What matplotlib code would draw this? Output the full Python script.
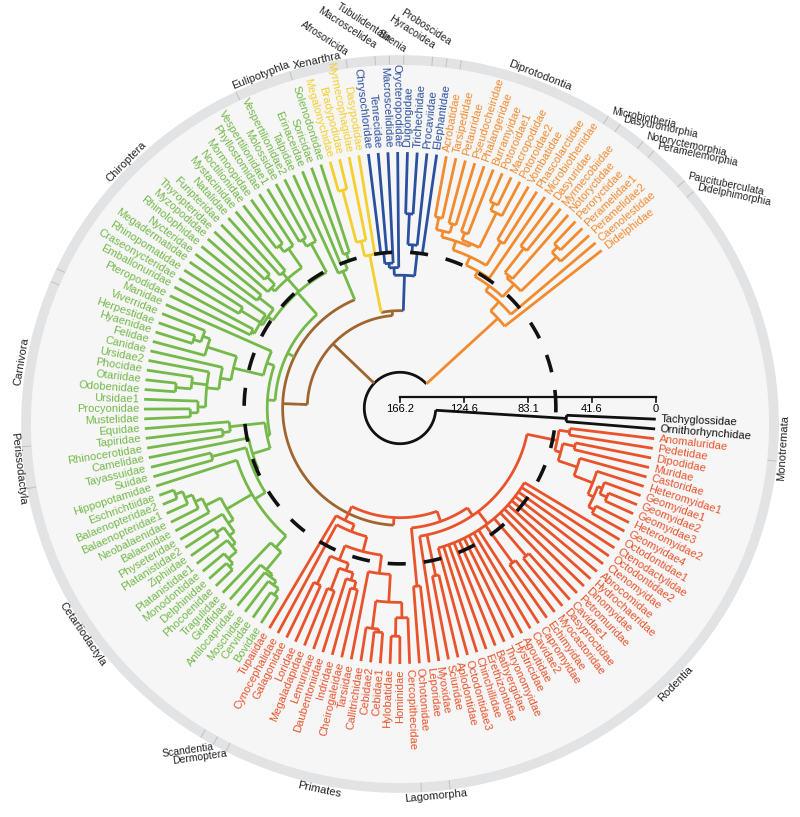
import numpy as np
import matplotlib
matplotlib.use('Agg')
import matplotlib.pyplot as plt

plt.rcParams['font.family'] = ['Liberation Sans', 'DejaVu Sans']

# tree topology, internal node labels are ages (Ma)
rodent_tree = ("(((Anomaluridae,Pedetidae)55,((Dipodidae,Muridae)50,(Castoridae,(Heteromyidae1,"
               "((Geomyidae1,(Geomyidae2,Geomyidae3)20)25,(Heteromyidae2,Geomyidae4)24)28)32)45)58)62,"
               "(Octodontidae1,Ctenodactylidae,Octodontidae2,Ctenomyidae,Abrocomidae,Hydrochaeridae,Dinomyidae,"
               "Petromuridae,(Cavidae1,Dasyproctidae)40,(Myocastoridae,Echimyidae)42,Capromyidae,Cavidae2,Agoutidae,"
               "Hystricidae,Thryonomyidae,Bathyergidae,Erethizontidae,Chinchillidae,Octodontidae3)72,"
               "(Aplodontidae,Sciuridae)55,Myoxidae)82")
primate_tree = ("((((Cercopithecidae,(Hominidae,Hylobatidae)18)30,((Cebidae1,Cebidae2)20,Callitrichidae)22)40,Tarsiidae)58,"
                "((((Cheirogaleidae,Indridae)45,Daubentoniidae)50,(Lemuridae,Megaladapidae)40)55,(Loridae,Galagonidae)40)60)70")
euarch_tree = "((" + rodent_tree + ",(Leporidae,Ochotonidae)50)88,((" + primate_tree + ",Cynocephalidae)80,Tupaiidae)85)95"
cetartio_tree = ("((((((((Bovidae,Cervidae)20,Moschidae)25,Antilocapridae)28,Giraffidae)30,Tragulidae)45,"
                 "((((((Phocoenidae,Delphinidae)15,Monodontidae)18,Platanistidae1)25,(Ziphiidae,Platanistidae2)22)28,Physeteridae)32,"
                 "(Balaenidae,(Neobalaenidae,(Balaenopteridae1,(Balaenopteridae2,Eschrichtiidae)10)15)20)25)36,Hippopotamidae)55)60,"
                 "(Suidae,Tayassuidae)40)63,Camelidae)66")
periss_tree = "((Rhinocerotidae,Tapiridae)50,Equidae)55"
carniv_tree = ("((((((Mustelidae,Procyonidae)30,Ursidae1)35,((Odobenidae,Otariidae)20,Phocidae)30,Ursidae2)40,Canidae)48,"
               "(Felidae,((Hyaenidae,Herpestidae)25,Viverridae)30)35)55,Manidae)75")
bat_tree = ("((((Pteropodidae,Emballonuridae)58,(Craseonycteridae,Rhinopomatidae)45,Megadermatidae)60,(Nycteridae,Rhinolophidae)50)62,"
            "((Myzopodidae,(Thyropteridae,Furipteridae)45)52,(Natalidae,Mystacinidae)50,((Noctilionidae,Mormoopidae)35,Phyllostomidae)40)55,"
            "((Vespertilionidae1,Molossidae)40,Vespertilionidae2)45)66")
lipo_tree = "(Talpidae,(Erinaceidae,(Soricidae,Solenodontidae)60)65)70"
laur_tree = "((((" + cetartio_tree + "," + periss_tree + ")78," + carniv_tree + ")80," + bat_tree + ")85," + lipo_tree + ")90"
xen_tree = "(((Megalonychidae,Bradypodidae)20,Myrmecophagidae)55,Dasypodidae)65"
afro_tree = ("((((Chrysochloridae,Tenrecidae)65,Macroscelididae)72,Orycteropodidae)75,"
             "(((Dugongidae,Trichechidae)40,Procaviidae)60,Elephantidae)65)80")
marsup_tree = ("((((((((Acrobatidae,Tarsipedidae)40,(Petauridae,Pseudocheiridae)42)48,((Phalangeridae,Burramyidae)45,"
               "((Potoroidae1,Macropodidae)20,Potoroidae2)25)50)52,(Vombatidae,Phascolarctidae)40)58,Microbiotheriidae)64,"
               "(((Dasyuridae,Myrmecobiidae)35,Notoryctidae)55,((Peroryctidae,Peramelidae1)20,Peramelidae2)25)57)68,"
               "Caenolestidae)72,Didelphidae)80")
tree_str = ("((Tachyglossidae,Ornithorhynchidae)58,(((" + euarch_tree + "," + laur_tree + ")100,(" + xen_tree + ","
            + afro_tree + ")103)106," + marsup_tree + ")143)153")

clade_tips = {
    'euarch': ('Anomaluridae', 'Tupaiidae'),
    'laur': ('Bovidae', 'Solenodontidae'),
    'xen': ('Megalonychidae', 'Dasypodidae'),
    'afro': ('Chrysochloridae', 'Elephantidae'),
    'marsup': ('Acrobatidae', 'Didelphidae'),
    'mono': ('Tachyglossidae', 'Ornithorhynchidae'),
}
clade_colors = {'euarch': '#E8532B', 'laur': '#74B94A', 'xen': '#F4CF2E', 'afro': '#2B50A0',
                'marsup': '#F28A2E', 'mono': '#111111'}

# order name, first tip, last tip, text anchor, fixed rotation (None = tangential), extra radial offset
orders = [('Monotremata', 'Tachyglossidae', 'Ornithorhynchidae', 'center', None, 0),
          ('Rodentia', 'Anomaluridae', 'Myoxidae', 'center', None, 0),
          ('Lagomorpha', 'Leporidae', 'Ochotonidae', 'center', None, 0),
          ('Primates', 'Cercopithecidae', 'Galagonidae', 'center', None, 0),
          ('Dermoptera', 'Cynocephalidae', 'Cynocephalidae', 'right', 8, 0),
          ('Scandentia', 'Tupaiidae', 'Tupaiidae', 'right', 8, 0),
          ('Cetartiodactyla', 'Bovidae', 'Camelidae', 'center', None, 0),
          ('Perissodactyla', 'Rhinocerotidae', 'Equidae', 'center', None, 0),
          ('Carnivora', 'Mustelidae', 'Viverridae', 'center', None, 0),
          ('', 'Manidae', 'Manidae', 'center', None, 0),
          ('Chiroptera', 'Pteropodidae', 'Vespertilionidae2', 'center', None, 0),
          ('Eulipotyphla', 'Talpidae', 'Solenodontidae', 'center', None, 0),
          ('Xenarthra', 'Megalonychidae', 'Dasypodidae', 'center', None, -2),
          ('Afrosoricida', 'Chrysochloridae', 'Tenrecidae', 'right', -33, 0),
          ('Macroscelidea', 'Macroscelididae', 'Macroscelididae', 'right', -33, 5),
          ('Tubulidentata', 'Orycteropodidae', 'Orycteropodidae', 'right', -33, 10),
          ('Sirenia', 'Dugongidae', 'Trichechidae', 'right', -33, 0),
          ('Hyracoidea', 'Procaviidae', 'Procaviidae', 'right', -33, 5),
          ('Proboscidea', 'Elephantidae', 'Elephantidae', 'right', -33, 10),
          ('Diprotodontia', 'Acrobatidae', 'Phascolarctidae', 'center', None, 0),
          ('Microbiotheria', 'Microbiotheriidae', 'Microbiotheriidae', 'left', -12, 0),
          ('Dasyuromorphia', 'Dasyuridae', 'Myrmecobiidae', 'left', -12, 0),
          ('Notoryctemorphia', 'Notoryctidae', 'Notoryctidae', 'left', -12, 0),
          ('Peramelemorphia', 'Peroryctidae', 'Peramelidae2', 'left', -12, 0),
          ('Paucituberculata', 'Caenolestidae', 'Caenolestidae', 'left', -12, 0),
          ('Didelphimorphia', 'Didelphidae', 'Didelphidae', 'left', -12, 0)]

scale_ticks = [166.2, 124.6, 83.1, 41.6, 0]
max_age = 166.2
kpg_age = 65


def parse(s):
    pos = 0

    def node():
        nonlocal pos
        if s[pos] == '(':
            pos += 1
            kids = [node()]
            while s[pos] == ',':
                pos += 1
                kids.append(node())
            pos += 1  # ')'
            start = pos
            while pos < len(s) and s[pos] not in ',)':
                pos += 1
            return {'kids': kids, 'age': float(s[start:pos])}
        start = pos
        while s[pos] not in ',)':
            pos += 1
        return {'name': s[start:pos], 'age': 0.0}
    return node()


root = parse(tree_str)
tips = []


def collect(n):
    if 'name' in n:
        tips.append(n['name'])
    else:
        for k in n['kids']:
            collect(k)


collect(root)
n_tips = len(tips)
a_start, a_end = -2.5, -322.0
tip_ang = {t: np.radians(a_start + (a_end - a_start) * i / (n_tips - 1)) for i, t in enumerate(tips)}
tip_col = {}
for c, (t0, t1) in clade_tips.items():
    for t in tips[tips.index(t0):tips.index(t1) + 1]:
        tip_col[t] = clade_colors[c]

R_TIP = 256.0


def rad(age):
    return R_TIP * (1 - age / max_age)


def layout(n):
    if 'name' in n:
        n['ang'] = tip_ang[n['name']]
        n['col'] = tip_col[n['name']]
        return
    for k in n['kids']:
        layout(k)
    n['ang'] = np.mean([k['ang'] for k in n['kids']])
    cols = {k['col'] for k in n['kids']}
    n['col'] = cols.pop() if len(cols) == 1 else '#A0652F'


layout(root)
root['col'] = '#111111'

fig = plt.figure(figsize=(8.0, 8.17), dpi=100)
ax = fig.add_axes([0, 0, 1, 1])
ax.set_xlim(-400, 400)
ax.set_ylim(-409, 408)
ax.set_aspect('equal')
ax.axis('off')

# outer ring (slightly oval, centre a bit below the tree root)
ring_cy, ring_rx, ring_ry = -16, 374, 364
th = np.linspace(0, 2 * np.pi, 400)
ax.fill(ring_rx * np.cos(th), ring_cy + ring_ry * np.sin(th), color='#F6F6F6', zorder=0)
ax.plot(ring_rx * np.cos(th), ring_cy + ring_ry * np.sin(th), color='#E2E3E5', lw=7, zorder=1)


def ring_pt(a, d):
    return (ring_rx + d) * np.cos(a), ring_cy + (ring_ry + d) * np.sin(a)


LW = 2.0


def draw(n):
    r = rad(n['age'])
    if 'kids' not in n:
        return
    angs = [k['ang'] for k in n['kids']]
    aa = np.linspace(min(angs), max(angs), 60)
    ax.plot(r * np.cos(aa), r * np.sin(aa), color=n['col'], lw=LW, zorder=3, solid_capstyle='butt')
    for k in n['kids']:
        rk = rad(k['age'])
        ax.plot([r * np.cos(k['ang']), rk * np.cos(k['ang'])], [r * np.sin(k['ang']), rk * np.sin(k['ang'])],
                color=k['col'], lw=LW, zorder=3, solid_capstyle='butt')
        draw(k)


draw(root)

# tip labels
for t in tips:
    a = tip_ang[t]
    deg = np.degrees(a) % 360
    r = R_TIP + 5
    flip = 90 < deg < 270
    ax.text(r * np.cos(a), r * np.sin(a), t, color=tip_col[t],
            fontsize=8, rotation=deg + 180 if flip else deg, rotation_mode='anchor',
            ha='right' if flip else 'left', va='center', zorder=4)

# K-Pg dashed circle
rk = rad(kpg_age)
ax.plot(rk * np.cos(th), rk * np.sin(th), color='#111111', lw=2.6, ls=(0, (5, 5)), zorder=5)

# order ring separators and labels
step = np.radians((a_end - a_start) / (n_tips - 1))
for i, (name, t0, t1, anchor, fixed_rot, extra) in enumerate(orders):
    a0, a1 = tip_ang[t0], tip_ang[t1]
    b = a1 + step / 2
    if i < len(orders) - 1:
        p0, p1 = ring_pt(b, -4), ring_pt(b, 4)
        ax.plot([p0[0], p1[0]], [p0[1], p1[1]], color='#C4C4C4', lw=0.8, zorder=2)
    if not name:
        continue
    m = (a0 + a1) / 2
    if anchor == 'right':
        m = a0 - step * 0.5 + 0.004
    elif anchor == 'left':
        m = a0 - step * 0.5 - 0.004
    deg = np.degrees(m) % 360
    rot = deg - 90 if deg < 180 else deg + 90
    if fixed_rot is not None:
        rot = fixed_rot
    x, y = ring_pt(m, (6 if fixed_rot is not None else 10) + extra)
    va = 'center' if fixed_rot is None or fixed_rot == 8 else 'bottom'
    ax.text(x, y, name, fontsize=8 if anchor == 'center' else 7.5, rotation=rot, rotation_mode='anchor',
            ha=anchor, va=va, color='#222222', zorder=4)

# time scale bar
ys = 11
ax.plot([0, R_TIP], [ys, ys], color='#111111', lw=1.6, zorder=6)
for v in scale_ticks:
    x = rad(v)
    ax.plot([x, x], [ys, ys - 5], color='#111111', lw=1.2, zorder=6)
    ax.text(x, ys - 7, '%g' % v, fontsize=8, ha='center', va='top', zorder=6)

fig.savefig('out.png', dpi=100, facecolor='white')
